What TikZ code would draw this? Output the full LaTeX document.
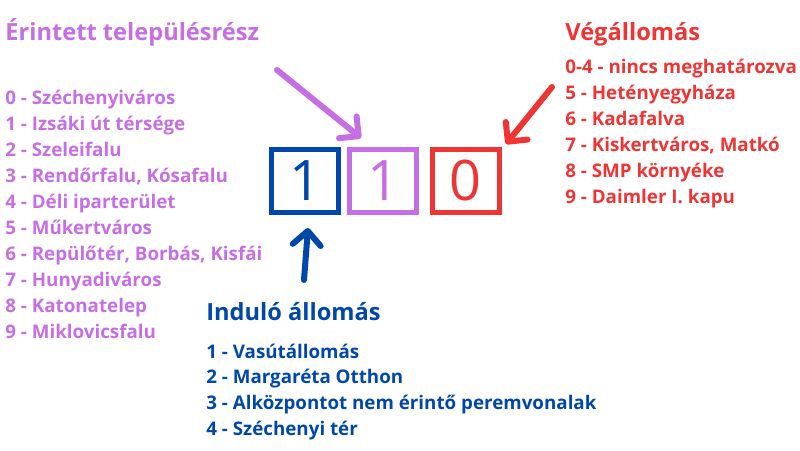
\documentclass[tikz,border=0pt]{standalone}
\usepackage{fontspec}
\setmainfont{Open Sans}
\usepackage{tikz}
\usetikzlibrary{arrows.meta}
\definecolor{lila}{RGB}{198,110,228}
\definecolor{kek}{RGB}{0,71,171}
\definecolor{piros}{RGB}{239,52,52}

\begin{document}
\begin{tikzpicture}[x=0.02cm,y=-0.02cm,
  cim/.style={anchor=base west,inner sep=0,font=\fontsize{13.45}{16}\selectfont\bfseries},
  sor/.style={anchor=base west,inner sep=0,font=\fontsize{10.68}{12}\selectfont\bfseries},
  doboz/.style={draw,line width=0.1cm,minimum width=1.34cm,minimum height=1.26cm,inner sep=0,font=\fontsize{31.8}{34}\selectfont},
  nyil/.style={line width=0.12cm,line cap=round,-{Straight Barb[round,length=0.28cm,width=0.56cm]}}]
\useasboundingbox (0,0) rectangle (800,450);
% a harom szamjegy
\node [doboz,kek] (b1) at (305,181) {1};
\node [doboz,lila] (b2) at (383,181) {1};
\node [doboz,piros] (b3) at (465.5,181) {0};
% erintett telepulesresz
\node [cim,lila] (ecim) at (5,40) {Érintett településrész};
\foreach \t [count=\i from 0] in {0 - Széchenyiváros,1 - Izsáki út térsége,2 - Szeleifalu,{3 - Rendőrfalu, Kósafalu},4 - Déli iparterület,5 - Műkertváros,{6 - Repülőtér, Borbás, Kisfái},7 - Hunyadiváros,8 - Katonatelep,9 - Miklovicsfalu}
  \node [sor,lila] (e\i) at (5,104+26.1*\i) {\t};
% vegallomas
\node [cim,piros] (vcim) at (565,40) {Végállomás};
\foreach \t [count=\i from 0] in {0-4 - nincs meghatározva,5 - Hetényegyháza,6 - Kadafalva,{7 - Kiskertváros, Matkó},8 - SMP környéke,9 - Daimler I. kapu}
  \node [sor,piros] (v\i) at (565,73+26*\i) {\t};
% indulo allomas
\node [cim,kek] (icim) at (206,320) {Induló állomás};
\foreach \t [count=\i from 0] in {1 - Vasútállomás,2 - Margaréta Otthon,3 - Alközpontot nem érintő peremvonalak,4 - Széchenyi tér}
  \node [sor,kek] (i\i) at (206,358+25.7*\i) {\t};
% nyilak
\coordinate (lk) at (277,70);
\coordinate (lv) at (361,138);
\draw [nyil,lila] (lk) -- (lv);
\coordinate (pk) at (552,87);
\coordinate (pv) at (506,144);
\draw [nyil,piros] (pk) -- (pv);
\coordinate (kk) at (304,280);
\coordinate (kv) at (308,228);
\draw [nyil,kek] (kk) -- (kv);
\end{tikzpicture}
\end{document}
